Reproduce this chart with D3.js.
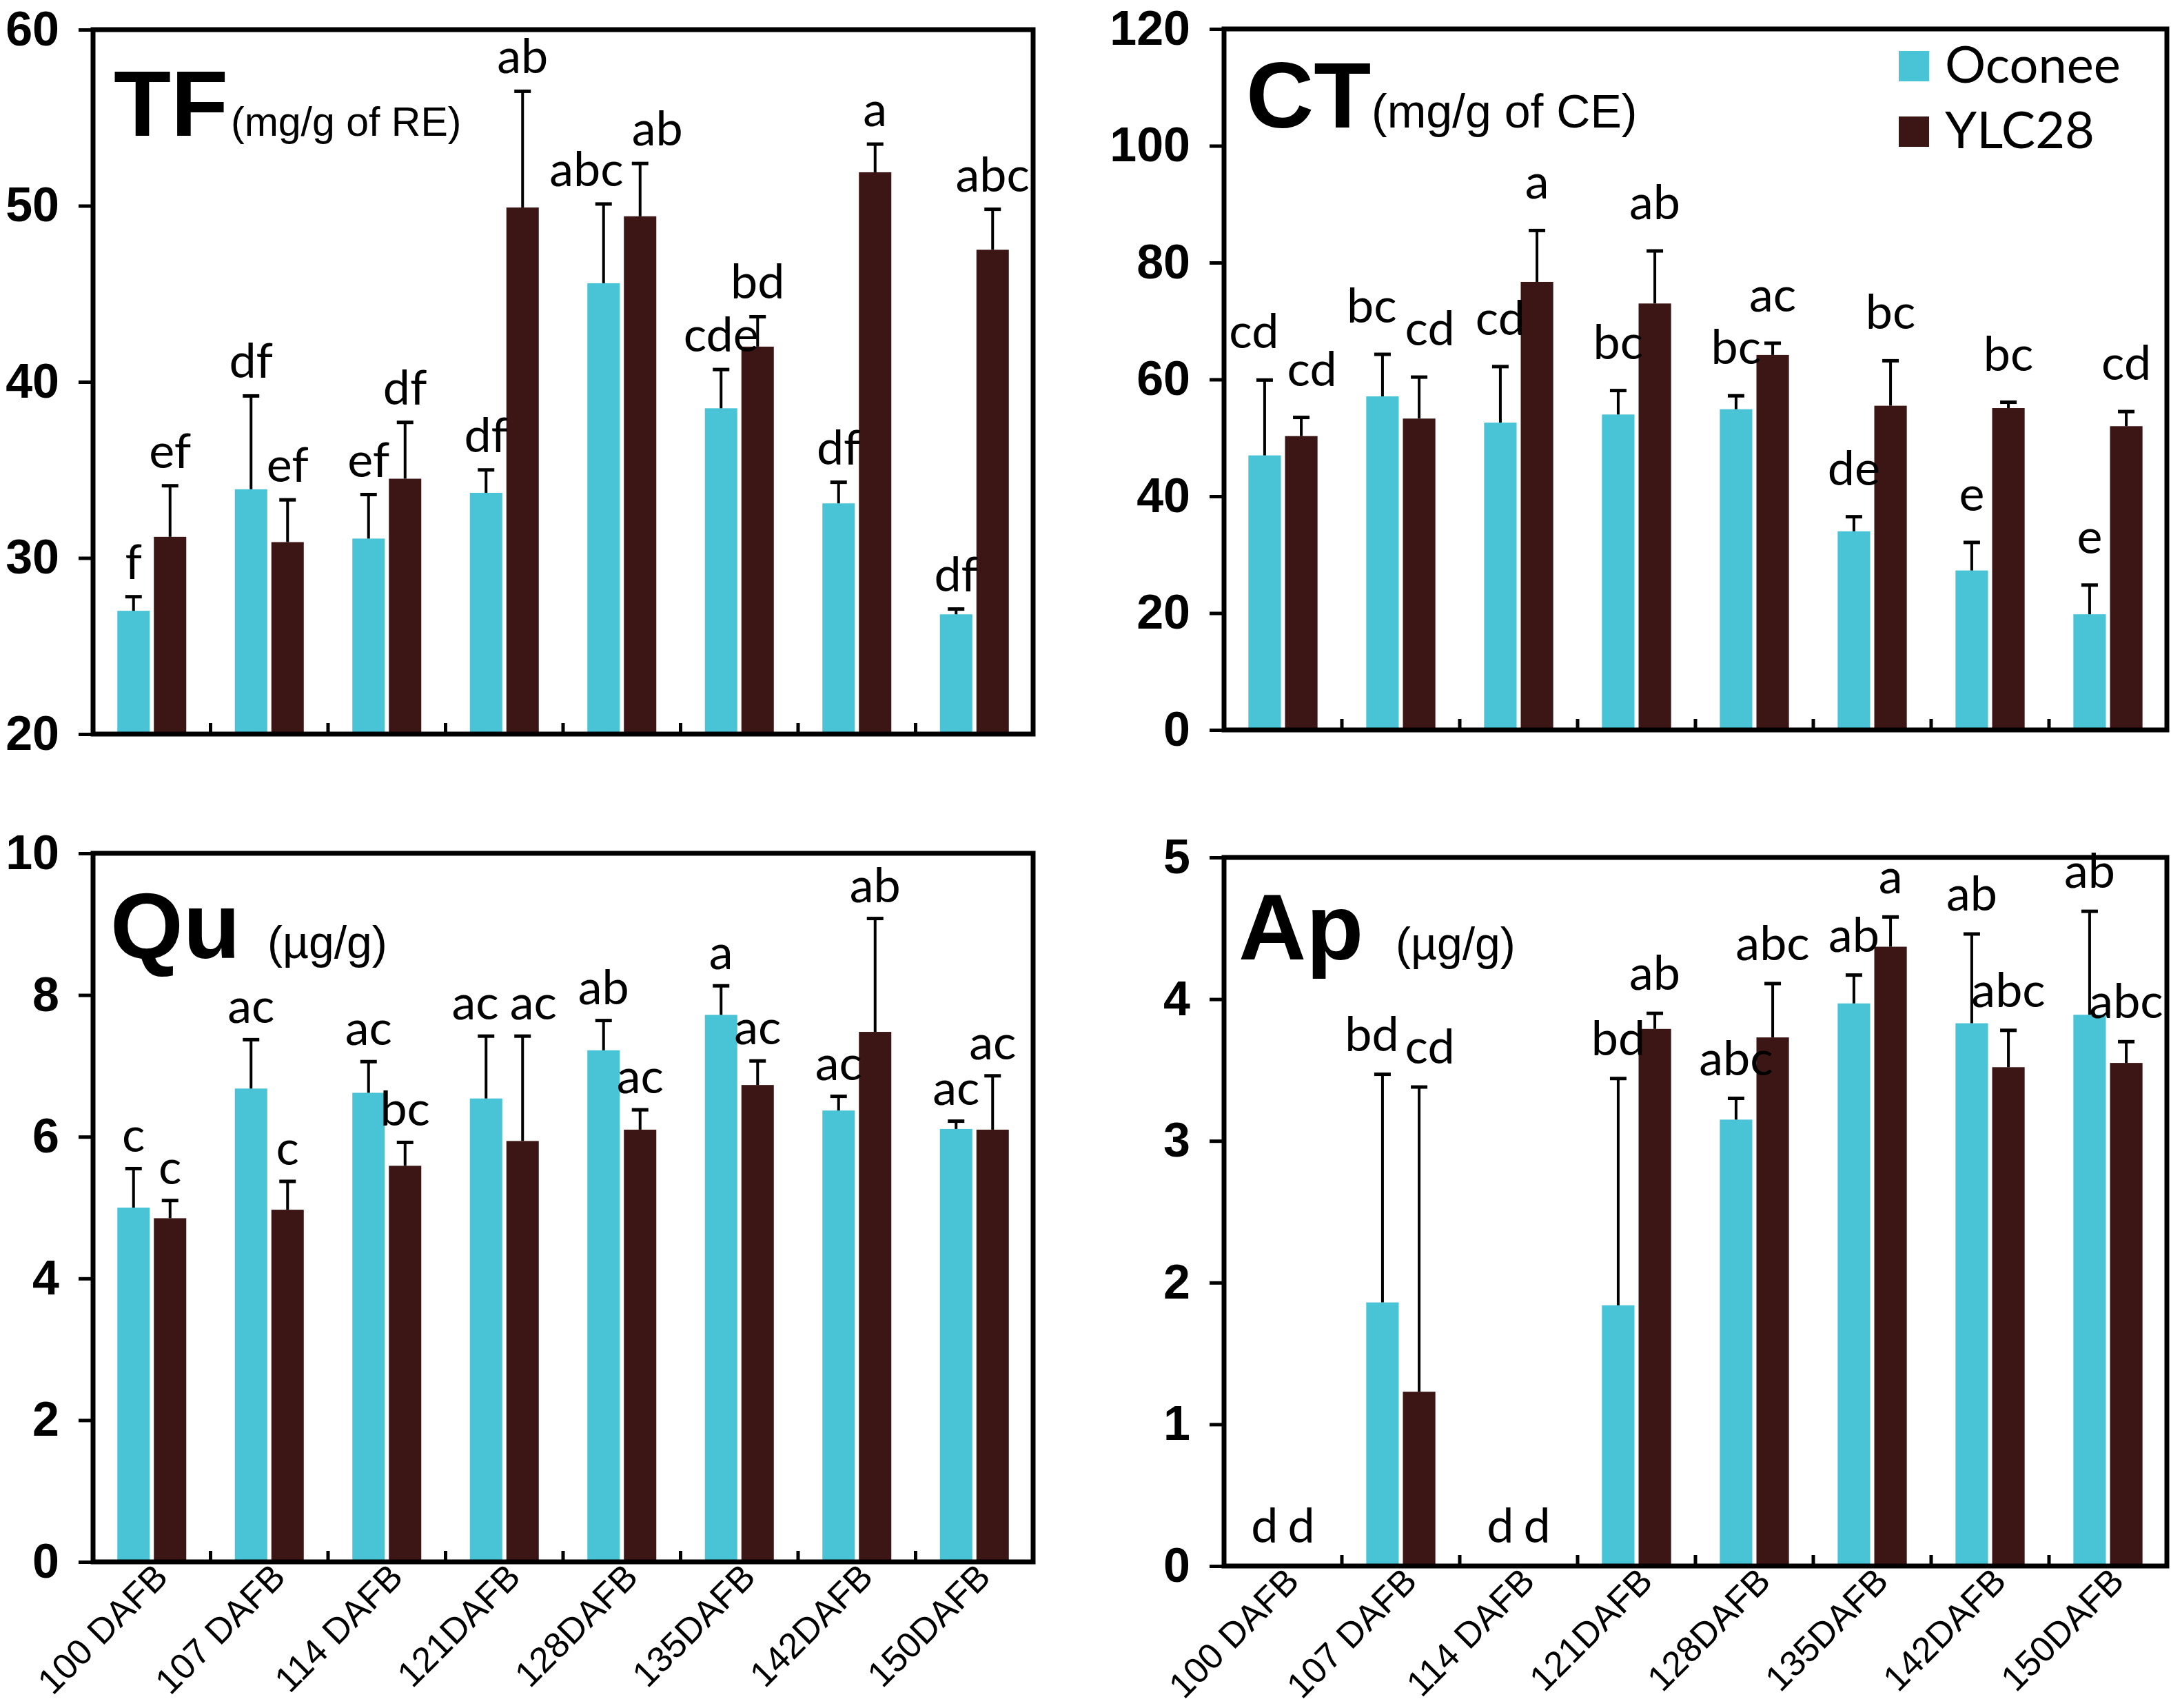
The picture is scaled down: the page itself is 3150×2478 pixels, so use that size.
<!DOCTYPE html>
<html><head><meta charset="utf-8">
<script src="https://cdn.jsdelivr.net/npm/d3@7/dist/d3.min.js"></script>
<style>body{margin:0;background:#fff}</style>
</head><body>
<svg id="chart" width="3150" height="2478" xmlns="http://www.w3.org/2000/svg"></svg>
<script>
// ---------- data ----------
const categories = ["100 DAFB","107 DAFB","114 DAFB","121DAFB","128DAFB","135DAFB","142DAFB","150DAFB"];
const seriesNames = ["Oconee","YLC28"];

const tfOconee    = [27.0, 33.9, 31.1, 33.7, 45.6, 38.5, 33.1, 26.8];
const tfOconeeErr = [0.8, 5.3, 2.5, 1.3, 4.5, 2.2, 1.2, 0.3];
const tfYlc       = [31.2, 30.9, 34.5, 49.9, 49.4, 42.0, 51.9, 47.5];
const tfYlcErr    = [2.9, 2.4, 3.2, 6.6, 3.0, 1.7, 1.6, 2.3];
const tfOconeeLetters = ["f","df","ef","df","abc","cde","df","df"];
const tfYlcLetters    = ["ef","ef","df","ab","ab","bd","a","abc"];

const ctOconee    = [47.0, 57.1, 52.6, 54.0, 54.9, 34.0, 27.3, 19.8];
const ctOconeeErr = [12.9, 7.2, 9.6, 4.1, 2.3, 2.5, 4.8, 5.0];
const ctYlc       = [50.3, 53.3, 76.7, 73.0, 64.2, 55.5, 55.1, 52.0];
const ctYlcErr    = [3.2, 7.1, 8.8, 9.0, 2.0, 7.7, 1.0, 2.5];
const ctOconeeLetters = ["cd","bc","cd","bc","bc","de","e","e"];
const ctYlcLetters    = ["cd","cd","a","ab","ac","bc","bc","cd"];

const quOconee    = [5.00, 6.68, 6.62, 6.54, 7.22, 7.72, 6.37, 6.11];
const quOconeeErr = [0.55, 0.69, 0.44, 0.88, 0.42, 0.41, 0.20, 0.11];
const quYlc       = [4.85, 4.97, 5.59, 5.94, 6.10, 6.73, 7.48, 6.10];
const quYlcErr    = [0.25, 0.40, 0.33, 1.48, 0.28, 0.34, 1.60, 0.76];
const quOconeeLetters = ["c","ac","ac","ac","ab","a","ac","ac"];
const quYlcLetters    = ["c","c","bc","ac","ac","ac","ab","ac"];

const apOconee    = [0, 1.86, 0, 1.84, 3.15, 3.97, 3.83, 3.89];
const apOconeeErr = [0, 1.61, 0, 1.60, 0.15, 0.20, 0.63, 0.73];
const apYlc       = [0, 1.23, 0, 3.79, 3.73, 4.37, 3.52, 3.55];
const apYlcErr    = [0, 2.15, 0, 0.11, 0.38, 0.21, 0.26, 0.15];
const apOconeeLetters = ["d","bd","d","bd","abc","ab","ab","ab"];
const apYlcLetters    = ["d","cd","d","ab","abc","a","abc","abc"];

const tfTicks = [20, 30, 40, 50, 60];
const ctTicks = [0, 20, 40, 60, 80, 100, 120];
const quTicks = [0, 2, 4, 6, 8, 10];
const apTicks = [0, 1, 2, 3, 4, 5];

// ---------- styles / layout ----------
const colors = {"Oconee": "#48C4D6", "YLC28": "#3C1515"};
const letterSize = 70;
const panels = [
  {title:"TF", unit:"(mg/g of RE)", unitSize:59, titleX:165, titleBase:197, unitX:335,
   left:135, right:1499, top:43, bottom:1065, ticks:tfTicks, gap:26, xLabels:false,
   values:[tfOconee, tfYlc], errs:[tfOconeeErr, tfYlcErr], letters:[tfOconeeLetters, tfYlcLetters]},
  {title:"CT", unit:"(mg/g of CE)", unitSize:68, titleX:1808, titleBase:185, unitX:1990,
   left:1776, right:3144, top:42, bottom:1059, ticks:ctTicks, gap:46, xLabels:false, legend:true,
   values:[ctOconee, ctYlc], errs:[ctOconeeErr, ctYlcErr], letters:[ctOconeeLetters, ctYlcLetters]},
  {title:"Qu", unit:"(µg/g)", unitSize:66, titleX:160, titleBase:1390, unitX:388,
   left:135, right:1499, top:1238, bottom:2266, ticks:quTicks, gap:24, xLabels:true,
   values:[quOconee, quYlc], errs:[quOconeeErr, quYlcErr], letters:[quOconeeLetters, quYlcLetters]},
  {title:"Ap", unit:"(µg/g)", unitSize:66, titleX:1797, titleBase:1392, unitX:2025,
   left:1776, right:3144, top:1244, bottom:2272, ticks:apTicks, gap:34, xLabels:true,
   values:[apOconee, apYlc], errs:[apOconeeErr, apYlcErr], letters:[apOconeeLetters, apYlcLetters]}
];

const svg = d3.select("#chart");
svg.append("rect").attr("width",3150).attr("height",2478).attr("fill","#fff");

function draw(p){
  const g = svg.append("g");
  const ticks = p.ticks;
  const x0 = d3.scaleBand().domain(categories).range([p.left, p.right]);
  const x1 = d3.scaleBand().domain(seriesNames).range([0, x0.bandwidth()])
               .paddingInner(0.113).paddingOuter(0.665);
  const y = d3.scaleLinear().domain([ticks[0], ticks[ticks.length-1]]).range([p.bottom, p.top]);

  const rows = categories.flatMap((c,i) => seriesNames.map((s,j) => ({
    c, s, i, v:p.values[j][i], e:p.errs[j][i], l:p.letters[j][i]
  })));
  const cx = d => x0(d.c) + x1(d.s) + x1.bandwidth()/2;

  // label placement: above error bar, pushed apart sideways when the pair collides
  rows.forEach(d => { d.lx = cx(d); d.ly = y(d.v + d.e) - p.gap; d.w = d.l.length * 0.53 * letterSize; });
  categories.forEach((c,i) => {
    const a = rows[i*2], b = rows[i*2+1];
    const over = (a.lx + a.w/2) - (b.lx - b.w/2) + 10;
    if (over > 0 && Math.abs(a.ly - b.ly) < letterSize*0.92){
      a.lx -= over/2; b.lx += over/2;
    }
  });

  g.selectAll("rect.bar").data(rows).join("rect").attr("class","bar")
    .attr("x", d => x0(d.c) + x1(d.s))
    .attr("width", x1.bandwidth())
    .attr("y", d => y(d.v))
    .attr("height", d => y(ticks[0]) - y(d.v))
    .attr("fill", d => colors[d.s]);

  const eb = rows.filter(d => d.e > 0);
  g.selectAll("line.err").data(eb).join("line").attr("class","err")
    .attr("x1", cx).attr("x2", cx)
    .attr("y1", d => y(d.v)).attr("y2", d => y(d.v + d.e))
    .attr("stroke","#000").attr("stroke-width",4);
  g.selectAll("line.cap").data(eb).join("line").attr("class","cap")
    .attr("x1", d => cx(d) - 12).attr("x2", d => cx(d) + 12)
    .attr("y1", d => y(d.v + d.e)).attr("y2", d => y(d.v + d.e))
    .attr("stroke","#000").attr("stroke-width",5);

  g.selectAll("text.letter").data(rows).join("text").attr("class","letter")
    .attr("x", d => d.lx)
    .attr("y", d => d.ly)
    .attr("text-anchor","middle")
    .attr("font-family","Lato, 'Open Sans', sans-serif")
    .attr("font-size",letterSize)
    .attr("fill","#000")
    .text(d => d.l);

  // frame
  g.append("rect").attr("x",p.left).attr("y",p.top)
    .attr("width",p.right-p.left).attr("height",p.bottom-p.top)
    .attr("fill","none").attr("stroke","#000").attr("stroke-width",7);

  // y axis
  const ya = d3.axisLeft(y).tickValues(ticks).tickSize(18).tickPadding(28).tickFormat(d3.format("d"));
  const yg = g.append("g").attr("transform",`translate(${p.left - 3},0)`).call(ya);
  yg.select(".domain").remove();
  yg.selectAll(".tick line").attr("stroke","#000").attr("stroke-width",5);
  yg.selectAll(".tick text").attr("fill","#000")
    .attr("font-family","'Liberation Sans', Arial, sans-serif")
    .attr("font-weight","bold").attr("font-size",70);

  // inner boundary ticks on x axis
  g.selectAll("line.xt").data(categories.slice(1)).join("line").attr("class","xt")
    .attr("x1", c => x0(c)).attr("x2", c => x0(c))
    .attr("y1", p.bottom).attr("y2", p.bottom - 16)
    .attr("stroke","#000").attr("stroke-width",5);

  if (p.xLabels){
    const xa = d3.axisBottom(x0).tickSize(0).tickPadding(0);
    const xg = g.append("g").attr("transform",`translate(0,${p.bottom})`).call(xa);
    xg.select(".domain").remove();
    xg.selectAll(".tick text")
      .attr("y",0).attr("dy",0)
      .attr("transform","translate(26,25) rotate(-45)")
      .attr("text-anchor","end")
      .attr("fill","#000")
      .attr("font-family","'Liberation Sans', Arial, sans-serif")
      .attr("font-size",52);
  }

  // title
  g.append("text").attr("x",p.titleX).attr("y",p.titleBase)
    .attr("font-family","'Liberation Sans', Arial, sans-serif").attr("font-weight","bold")
    .attr("font-size",136).attr("fill","#000").text(p.title);
  g.append("text").attr("x",p.unitX).attr("y",p.titleBase)
    .attr("font-family","'Liberation Sans', Arial, sans-serif")
    .attr("font-size",p.unitSize).attr("fill","#000").text(p.unit);

  if (p.legend){
    const lg = g.append("g");
    const ly = d3.scalePoint().domain(seriesNames).range([96, 191]);
    lg.selectAll("rect").data(seriesNames).join("rect")
      .attr("x",2755).attr("y", s => ly(s) - 22).attr("width",44).attr("height",44)
      .attr("fill", s => colors[s]);
    lg.selectAll("text").data(seriesNames).join("text")
      .attr("x",2822).attr("y", s => ly(s) + 24)
      .attr("font-family","Lato, 'Open Sans', sans-serif").attr("font-size",74)
      .attr("fill","#000").text(s => s);
  }
}
panels.forEach(draw);
</script>
</body></html>
